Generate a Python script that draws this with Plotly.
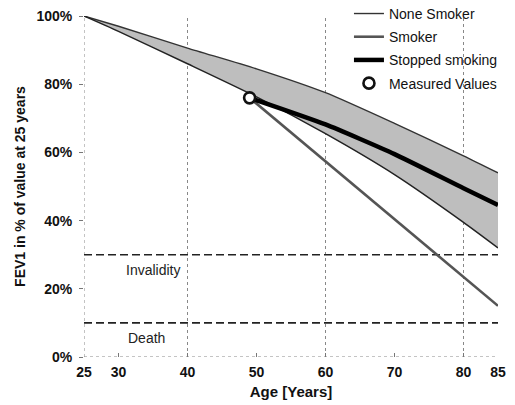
import plotly.graph_objects as go

# Ages at which the reference curves are sampled
curve_ages = [25, 30, 40, 50, 60, 70, 80, 85]
# FEV1 (% of value at 25 years) for a never-smoker
non_smoker = [100, 97.0, 90.6, 84.5, 77.5, 68.5, 59.0, 54.0]
# Lower edge of the shaded band (continued smoking course)
band_lower = [100, 95.5, 86.0, 76.3, 65.5, 53.5, 39.5, 32.0]

# Measured value
measured_age = [49]
measured_fev1 = [76]

# Projection if smoking continues
smoker_ages = [49, 85]
smoker_fev1 = [76, 15]

# Course after stopping smoking
stopped_ages = [49, 60, 70, 80, 85]
stopped_fev1 = [76, 68.2, 59.5, 49.5, 44.6]

# Clinical thresholds
threshold_names = ["Invalidity", "Death"]
threshold_levels = [30, 10]
threshold_label_age = [35, 34]
threshold_label_level = [25.5, 5.5]

x_range = [25, 85]
x_ticks = [25, 30, 40, 50, 60, 70, 80, 85]
y_ticks = [0, 20, 40, 60, 80, 100]
y_ticklabels = ["0%", "20%", "40%", "60%", "80%", "100%"]
grid_ages = [25, 40, 60, 80]

FONT = "Liberation Sans, Arial, sans-serif"

fig = go.Figure()

# Threshold lines
for lvl in threshold_levels:
    fig.add_trace(go.Scatter(
        x=x_range, y=[lvl, lvl], mode="lines", showlegend=False,
        line=dict(color="#222", width=1.6, dash="8px,4px"), hoverinfo="skip"))

# Non-smoker curve (top of band)
fig.add_trace(go.Scatter(
    x=curve_ages, y=non_smoker, mode="lines", name="None Smoker",
    legendgroup="a", line=dict(color="#333", width=1.4, shape="spline", smoothing=0.6)))

# Lower band edge, shaded up to the non-smoker curve
fig.add_trace(go.Scatter(
    x=curve_ages, y=band_lower, mode="lines", showlegend=False,
    fill="tonexty", fillcolor="#bebebe",
    line=dict(color="#222", width=1.5, shape="spline", smoothing=0.6)))

# Continued smoking projection
fig.add_trace(go.Scatter(
    x=smoker_ages, y=smoker_fev1, mode="lines", name="Smoker",
    legendgroup="b", line=dict(color="#555", width=2.6)))

# Stopped smoking
fig.add_trace(go.Scatter(
    x=stopped_ages, y=stopped_fev1, mode="lines", name="Stopped smoking",
    legendgroup="c", line=dict(color="#000", width=4.5, shape="spline", smoothing=0.5)))

# Measured value
fig.add_trace(go.Scatter(
    x=measured_age, y=measured_fev1, mode="markers", name="Measured Values",
    legendgroup="d",
    marker=dict(symbol="circle", size=11, color="white",
                line=dict(color="#111", width=2.6))))

# Threshold labels
for name, ax, ay in zip(threshold_names, threshold_label_age, threshold_label_level):
    fig.add_annotation(x=ax, y=ay, text=name, showarrow=False,
                       font=dict(family=FONT, size=14, color="#222"))

# Dotted vertical grid lines and dotted baseline
for a in grid_ages:
    fig.add_shape(type="line", x0=a, x1=a, y0=0, y1=1, yref="paper",
                  line=dict(color="#888", width=1, dash="dot"), layer="below")
fig.add_shape(type="line", x0=0, x1=1, xref="paper", y0=0, y1=0,
              line=dict(color="#888", width=1, dash="dot"), layer="below")

fig.update_layout(
    width=515, height=405,
    margin=dict(l=84, r=17, t=16, b=48, autoexpand=False),
    plot_bgcolor="white", paper_bgcolor="white",
    font=dict(family=FONT, color="#111"),
    legend=dict(x=0.64, y=1.053, xanchor="left", yanchor="top",
                bgcolor="rgba(0,0,0,0)", tracegroupgap=2,
                font=dict(family=FONT, size=14, color="#111")),
    xaxis=dict(range=x_range, tickvals=x_ticks, showgrid=False, zeroline=False,
               showline=False, ticks="inside", ticklen=4, tickcolor="#777",
               tickfont=dict(family=FONT, size=14, weight="bold"),
               ticklabelstandoff=5,
               title=dict(text="Age [Years]", standoff=7,
                          font=dict(family=FONT, size=15, weight="bold"))),
    yaxis=dict(range=[0, 100], tickvals=y_ticks, ticktext=y_ticklabels,
               showgrid=False, zeroline=False, showline=False,
               ticks="outside", ticklen=4, tickcolor="#777",
               tickfont=dict(family=FONT, size=14, weight="bold"),
               ticklabelstandoff=4,
               title=dict(text="FEV1 in % of value at 25 years", standoff=7,
                          font=dict(family=FONT, size=14, weight="bold"))),
)

fig.write_html("out.html")
